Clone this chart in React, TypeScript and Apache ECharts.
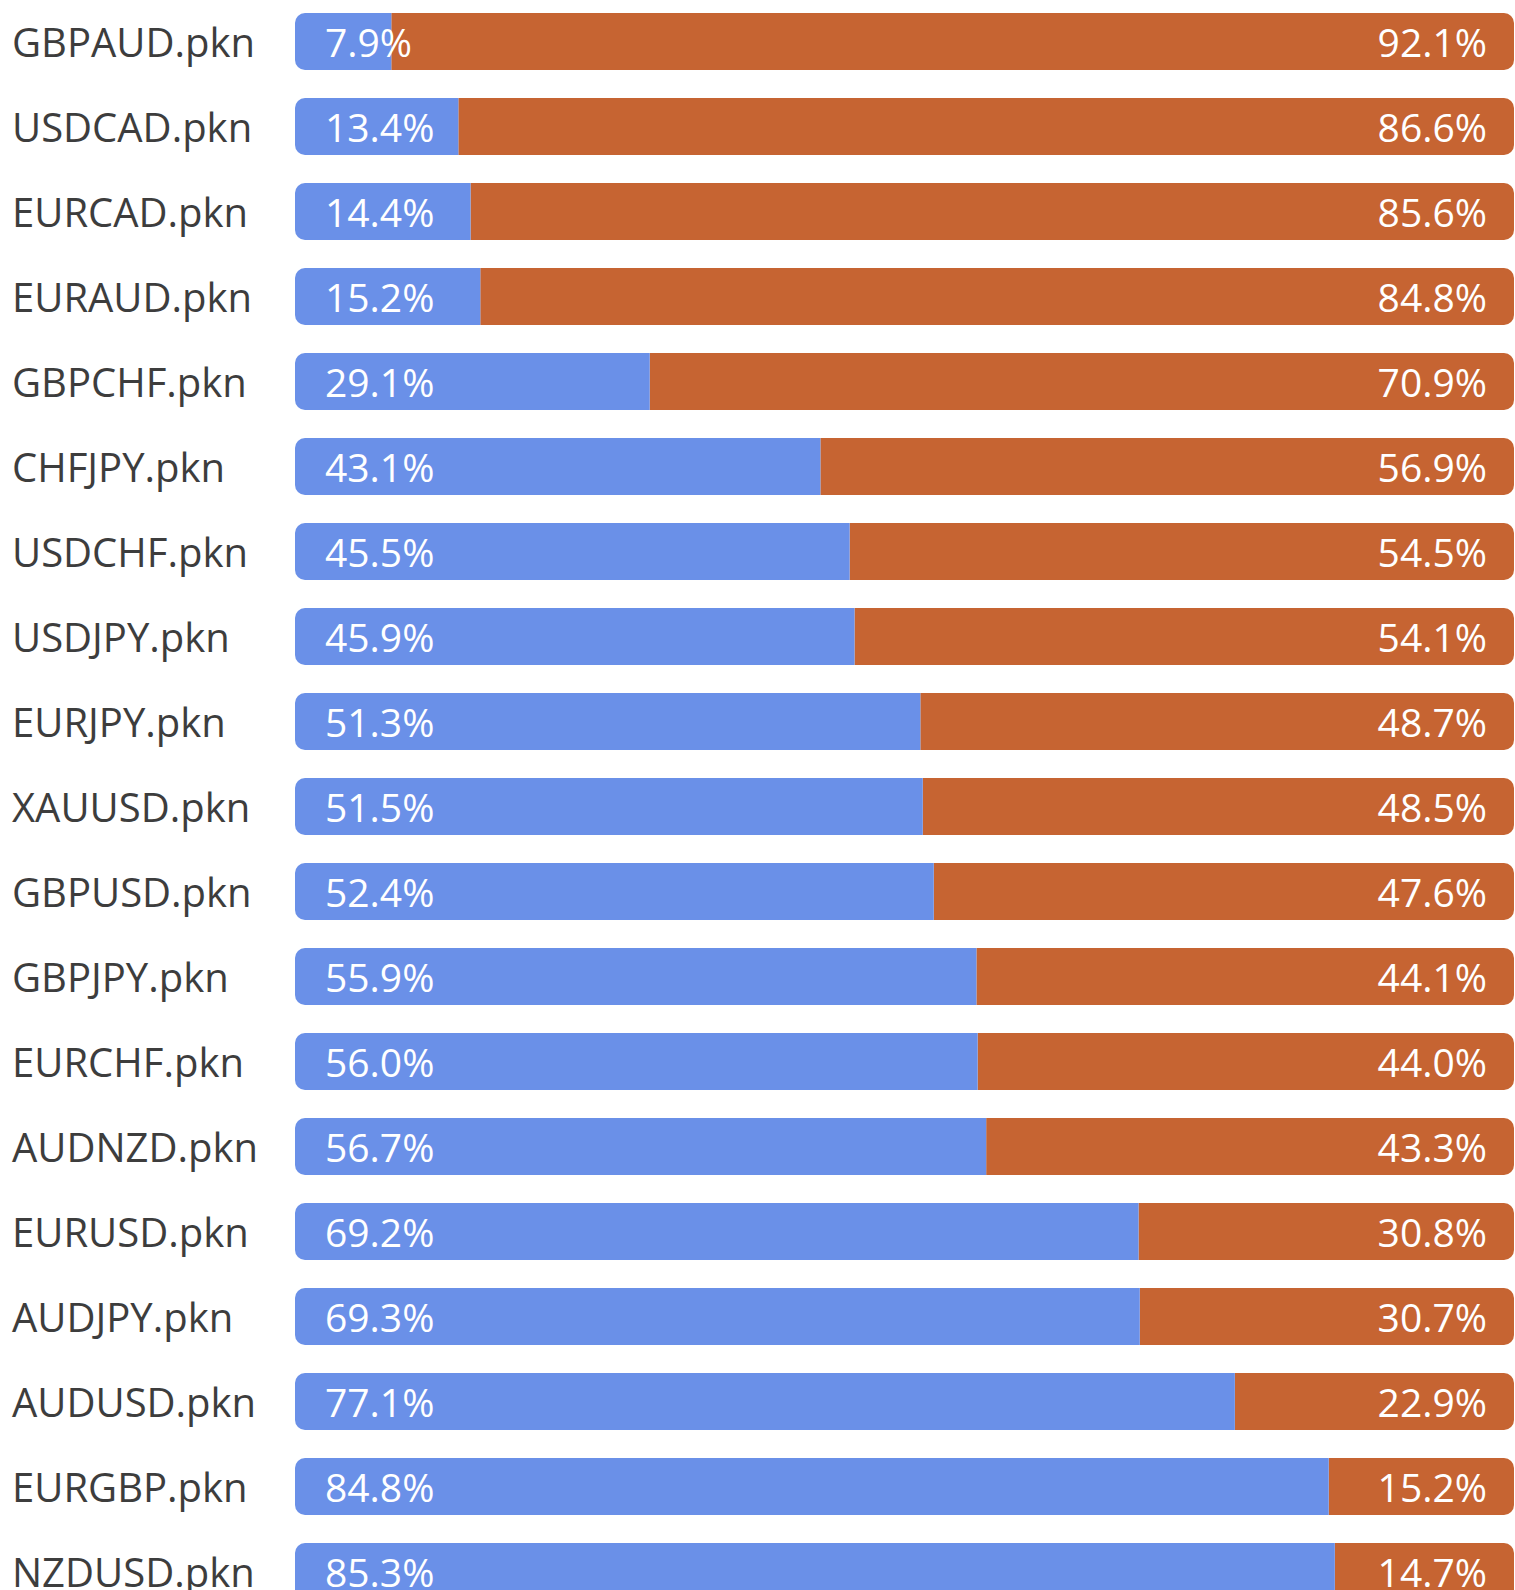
import React, { useEffect, useRef } from "react";
import * as echarts from "echarts";

const categories = [
  "GBPAUD.pkn", "USDCAD.pkn", "EURCAD.pkn", "EURAUD.pkn", "GBPCHF.pkn",
  "CHFJPY.pkn", "USDCHF.pkn", "USDJPY.pkn", "EURJPY.pkn", "XAUUSD.pkn",
  "GBPUSD.pkn", "GBPJPY.pkn", "EURCHF.pkn", "AUDNZD.pkn", "EURUSD.pkn",
  "AUDJPY.pkn", "AUDUSD.pkn", "EURGBP.pkn", "NZDUSD.pkn",
];
const longValues = [
  7.9, 13.4, 14.4, 15.2, 29.1, 43.1, 45.5, 45.9, 51.3, 51.5,
  52.4, 55.9, 56.0, 56.7, 69.2, 69.3, 77.1, 84.8, 85.3,
];
const shortValues = [
  92.1, 86.6, 85.6, 84.8, 70.9, 56.9, 54.5, 54.1, 48.7, 48.5,
  47.6, 44.1, 44.0, 43.3, 30.8, 30.7, 22.9, 15.2, 14.7,
];

const FONT = "'Open Sans', 'Noto Sans', sans-serif";

export default function App() {
  const ref = useRef<HTMLDivElement>(null);
  useEffect(() => {
    if (!ref.current) return;
    const chart = echarts.init(ref.current, null, { renderer: "svg" });
    chart.setOption({
      animation: false,
      backgroundColor: "#ffffff",
      grid: { left: 295, right: 1, top: 0, height: 85 * categories.length },
      xAxis: {
        type: "value",
        min: 0,
        max: 100,
        show: false,
      },
      yAxis: {
        type: "category",
        data: categories,
        inverse: true,
        axisLine: { show: false },
        axisTick: { show: false },
        axisLabel: {
          align: "left",
          margin: 283,
          color: "#3d3d3d",
          fontFamily: FONT,
          fontSize: 40,
        },
      },
      series: [
        {
          type: "bar",
          stack: "total",
          data: longValues,
          barWidth: 57,
          z: 3,
          itemStyle: { color: "#6a90e8", borderRadius: [10, 0, 0, 10] },
          label: {
            show: true,
            position: "insideLeft",
            distance: 30,
            color: "#ffffff",
            fontFamily: FONT,
            fontSize: 39,
            formatter: (p: any) => Number(p.value).toFixed(1) + "%",
          },
        },
        {
          type: "bar",
          stack: "total",
          data: shortValues,
          barWidth: 57,
          z: 2,
          itemStyle: { color: "#c66432", borderRadius: [0, 10, 10, 0] },
          label: {
            show: true,
            position: "insideRight",
            distance: 27,
            color: "#ffffff",
            fontFamily: FONT,
            fontSize: 39,
            formatter: (p: any) => Number(p.value).toFixed(1) + "%",
          },
        },
      ],
    });
    return () => chart.dispose();
  }, []);
  return (
    <div
      style={{
        position: "fixed",
        left: 0,
        top: 0,
        width: 1515,
        height: 1590,
        overflow: "hidden",
        background: "#ffffff",
      }}
    >
      <div
        ref={ref}
        style={{ position: "absolute", left: 0, top: -1, width: 1515, height: 1640 }}
      />
    </div>
  );
}
